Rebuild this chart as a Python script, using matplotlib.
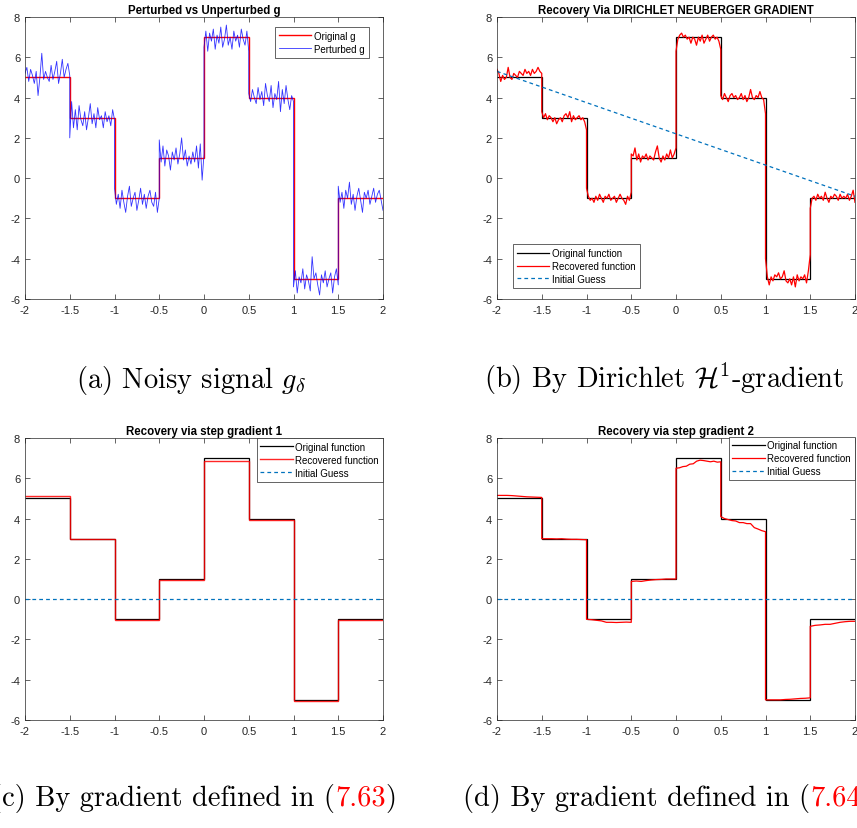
import numpy as np
import matplotlib
matplotlib.use("Agg")
import matplotlib.pyplot as plt

plt.rcParams['font.family'] = ['Liberation Sans', 'DejaVu Sans']
plt.rcParams['mathtext.fontset'] = 'cm'

# step signal g on [-2, 2]
edges = [-2, -1.5, -1, -0.5, 0, 0.5, 1, 1.5, 2]
levels = [5, 3, -1, 1, 7, 4, -5, -1]

# noisy samples of g, one list per step
perturbed_g = [
    [5.2, 5.5, 4.8, 5.4, 5.1, 4.7, 5.3, 4.1, 5.0, 6.2, 4.9, 5.3, 5.0, 4.8, 5.6, 4.9, 5.3, 5.8, 4.7, 5.2, 5.9, 5.0, 5.4, 5.7, 5.1],
    [2.0, 3.8, 2.5, 3.4, 2.4, 3.6, 2.9, 2.6, 3.3, 2.4, 3.0, 3.7, 2.7, 3.2, 2.5, 3.5, 2.9, 3.1, 2.5, 3.3, 2.8, 3.1, 2.6, 3.4, 2.9],
    [-0.5, -1.3, -0.8, -1.5, -0.6, -1.2, -1.7, -0.9, -0.4, -1.4, -1.0, -0.7, -1.6, -1.1, -0.5, -1.3, -0.8, -1.5, -0.9, -0.6, -1.2, -1.4, -0.7, -1.7, -1.0],
    [1.9, 0.8, 1.6, 0.6, 1.4, 1.1, 0.4, 1.3, 0.9, 1.5, 0.7, 1.2, 2.0, 0.9, 1.4, 0.6, 1.1, 0.7, 1.3, 0.8, 1.6, 0.5, 1.7, -0.1, 1.2],
    [6.5, 7.3, 6.3, 7.2, 6.8, 7.4, 6.4, 7.1, 6.7, 7.5, 6.5, 6.9, 7.6, 6.6, 7.0, 6.4, 7.3, 6.8, 7.1, 6.5, 7.4, 6.9, 6.6, 7.3, 6.3],
    [4.2, 3.8, 4.4, 4.0, 3.7, 4.5, 3.9, 4.3, 3.6, 4.7, 4.1, 3.8, 4.6, 3.5, 4.2, 3.9, 4.8, 3.3, 4.4, 3.7, 4.6, 3.9, 3.4, 4.1, 3.8],
    [-5.4, -4.6, -5.7, -4.9, -5.2, -4.5, -5.5, -4.8, -5.1, -5.6, -3.9, -5.0, -4.7, -5.3, -5.8, -4.8, -5.2, -4.6, -5.4, -5.0, -4.7, -5.7, -4.9, -4.5, -5.3],
    [-0.4, -1.2, -0.7, -1.5, -0.6, -1.0, -0.2, -1.3, -0.8, -1.6, -0.9, -0.5, -1.1, -1.7, -0.7, -1.0, -0.6, -1.3, -0.9, -0.5, -1.2, -0.8, -0.6, -1.1, -1.6],
]

# Dirichlet Neuberger gradient recovery
recovered_dn = [
    [5.4, 5.2, 4.8, 5.1, 4.9, 5.0, 5.5, 5.0, 4.9, 5.2, 5.1, 5.0, 5.3, 5.2, 5.1, 5.4, 5.2, 5.3, 5.1, 5.4, 5.2, 5.3, 5.5, 5.3, 5.2],
    [3.3, 3.0, 3.2, 2.9, 3.1, 3.0, 2.8, 3.0, 2.7, 2.9, 3.0, 2.8, 3.1, 3.2, 3.0, 3.3, 2.8, 3.1, 2.9, 3.0, 3.1, 2.9, 3.0, 2.8, 2.4],
    [-0.5, -0.9, -1.1, -1.0, -1.2, -0.9, -1.1, -0.8, -1.0, -1.2, -0.9, -1.0, -0.8, -1.1, -1.0, -0.9, -1.2, -1.0, -0.8, -1.0, -1.1, -1.3, -0.9, -1.1, -0.7],
    [1.2, 1.1, 1.5, 0.9, 1.2, 0.8, 1.1, 1.0, 1.2, 0.9, 1.1, 1.0, 0.9, 1.3, 1.6, 1.0, 0.8, 1.1, 0.9, 1.2, 1.0, 1.4, 1.0, 1.2, 1.5],
    [6.3, 6.9, 7.1, 7.2, 7.0, 7.1, 6.9, 7.0, 6.7, 7.0, 6.9, 6.6, 7.0, 6.8, 7.1, 6.7, 6.9, 7.1, 6.8, 7.0, 7.1, 6.9, 7.0, 6.8, 6.4],
    [4.1, 3.9, 4.2, 4.0, 3.8, 4.1, 4.2, 4.0, 4.1, 3.9, 4.0, 4.2, 3.9, 4.1, 3.8, 4.0, 4.4, 4.0, 3.9, 4.1, 4.0, 4.3, 4.0, 3.9, 3.2],
    [-4.0, -4.9, -5.3, -4.9, -5.1, -4.8, -4.9, -4.7, -5.0, -4.9, -4.6, -5.1, -5.2, -5.0, -5.3, -4.9, -5.4, -4.8, -5.1, -4.9, -5.0, -4.8, -5.2, -4.6, -3.8],
    [-1.5, -1.0, -0.9, -1.1, -0.8, -1.0, -0.9, -1.1, -0.7, -1.0, -1.2, -0.9, -1.0, -0.8, -0.9, -1.1, -0.8, -1.0, -0.9, -1.0, -0.8, -1.1, -0.9, -0.6, -1.2],
]
guess_dn = [5.3, -0.9]

# step gradient 1: recovered level on each step
recovered_s1 = [5.1, 2.98, -1.06, 0.97, 6.88, 3.95, -5.05, -1.02]

# step gradient 2 recovery
recovered_s2 = [
    [5.15, 5.15, 5.15, 5.14, 5.12, 5.1, 5.08, 5.07, 5.06, 5.05],
    [3.0, 3.0, 3.0, 2.99, 3.0, 2.98, 2.97, 2.97, 2.96, 2.95],
    [-1.0, -1.02, -1.05, -1.08, -1.15, -1.15, -1.16, -1.15, -1.14, -1.15],
    [0.88, 0.9, 0.88, 0.92, 0.95, 0.97, 0.98, 1.0, 1.0, 1.0],
    [6.5, 6.52, 6.58, 6.6, 6.7, 6.72, 6.85, 6.9, 6.88, 6.85, 6.82, 6.85, 6.8, 6.82],
    [4.1, 4.0, 3.95, 3.9, 3.88, 3.8, 3.8, 3.75, 3.75, 3.55, 3.48, 3.4, 3.35],
    [-5.0, -5.0, -5.0, -5.0, -4.98, -4.97, -4.95, -4.93, -4.92, -4.9],
    [-1.35, -1.3, -1.28, -1.25, -1.25, -1.2, -1.15, -1.12, -1.1, -1.1],
]
guess_s = 0.0

xticks = [-2, -1.5, -1, -0.5, 0, 0.5, 1, 1.5, 2]
xticklabels = ['-2', '-1.5', '-1', '-0.5', '0', '0.5', '1', '1.5', '2']
yticks = [-6, -4, -2, 0, 2, 4, 6, 8]
yticklabels = ['-6', '-4', '-2', '0', '2', '4', '6', '8']

titles = ['Perturbed vs Unperturbed g', 'Recovery Via DIRICHLET NEUBERGER GRADIENT',
          'Recovery via step gradient 1', 'Recovery via step gradient 2']

MBLUE = '#0072BD'
GRAY = '#262626'


def segments(parts):
    xs, ys = [], []
    for k, vals in enumerate(parts):
        xs.append(np.linspace(edges[k], edges[k + 1], len(vals)))
        ys.append(vals)
    return np.concatenate(xs), np.concatenate(ys)


def style(ax, title):
    ax.set_xlim(-2, 2)
    ax.set_ylim(-6, 8)
    ax.set_xticks(xticks)
    ax.set_xticklabels(xticklabels)
    ax.set_yticks(yticks)
    ax.set_yticklabels(yticklabels)
    ax.tick_params(direction='in', length=3.5, width=0.5, colors=GRAY,
                   labelsize=8, top=True, right=True)
    ax.tick_params(axis='x', pad=4.5)
    ax.tick_params(axis='y', pad=3.5)
    for s in ax.spines.values():
        s.set_color(GRAY)
        s.set_linewidth(0.5)
    ax.set_title(title, fontsize=8.3, fontweight='bold', pad=3)


def legend(ax, **kw):
    lg = ax.legend(fontsize=7, fancybox=False, framealpha=1, edgecolor=GRAY,
                   borderpad=0.4, labelspacing=0.3, handlelength=3.3,
                   handletextpad=0.3, borderaxespad=0, **kw)
    lg.get_frame().set_linewidth(0.5)
    return lg


fig = plt.figure(figsize=(8.57, 8.29), dpi=100)
W, H = 857, 829


def add_axes(l, t, r, b):
    return fig.add_axes([l / W, 1 - b / H, (r - l) / W, (b - t) / H])


ax_a = add_axes(25, 18, 383, 300)
ax_b = add_axes(497, 18, 855, 300)
ax_c = add_axes(25, 439, 383, 721)
ax_d = add_axes(497, 439, 855, 721)

# (a) noisy signal
ax_a.stairs(levels, edges, baseline=None, color='red', lw=1.0, label='Original g')
xp, yp = segments(perturbed_g)
ax_a.plot(xp, yp, color='blue', lw=0.6, alpha=0.8, label='Perturbed g')
style(ax_a, titles[0])
legend(ax_a, loc='upper right', bbox_to_anchor=(0.96, 0.965))

# (b) Dirichlet gradient
ax_b.stairs(levels, edges, baseline=None, color='black', lw=0.9, label='Original function')
xr, yr = segments(recovered_dn)
ax_b.plot(xr, yr, color='red', lw=0.9, label='Recovered function')
ax_b.plot([-2, 2], guess_dn, '--', color=MBLUE, lw=0.9, dashes=(3, 2.5), label='Initial Guess')
style(ax_b, titles[1])
legend(ax_b, loc='lower left', bbox_to_anchor=(0.045, 0.04))

# (c) step gradient 1
ax_c.stairs(levels, edges, baseline=None, color='black', lw=0.9, label='Original function')
ax_c.stairs(recovered_s1, edges, baseline=None, color='red', lw=1.0, alpha=0.85,
            label='Recovered function')
ax_c.axhline(guess_s, ls='--', color=MBLUE, lw=0.9, dashes=(3, 2.5), label='Initial Guess')
style(ax_c, titles[2])
legend(ax_c, loc='upper right', bbox_to_anchor=(1.0, 1.0))

# (d) step gradient 2
ax_d.stairs(levels, edges, baseline=None, color='black', lw=0.9, label='Original function')
x2, y2 = segments(recovered_s2)
ax_d.plot(x2, y2, color='red', lw=0.9, label='Recovered function')
ax_d.axhline(guess_s, ls='--', color=MBLUE, lw=0.9, dashes=(3, 2.5), label='Initial Guess')
style(ax_d, titles[3])
legend(ax_d, loc='upper right', bbox_to_anchor=(1.0, 1.005))

# subfigure captions, drawn piece by piece so the references can be red
renderer = fig.canvas.get_renderer()


def caption(x, y, parts):
    x = x / W
    y = 1 - y / H
    for s, c in parts:
        t = fig.text(x, y, s, color=c, fontsize=20.5, family='cmr10', va='baseline')
        bb = t.get_window_extent(renderer)
        x = bb.x1 / fig.bbox.width


caption(76, 388, [('(a) Noisy signal $g_\\delta$', 'black')])
caption(484, 388, [('(b) By Dirichlet $\\mathcal{H}^1$-gradient', 'black')])
caption(-9, 806, [('(c) By gradient defined in (', 'black'), ('7.63', 'red'), (')', 'black')])
caption(463, 806, [('(d) By gradient defined in (', 'black'), ('7.64', 'red'), (')', 'black')])

fig.savefig('out.png', dpi=100)
